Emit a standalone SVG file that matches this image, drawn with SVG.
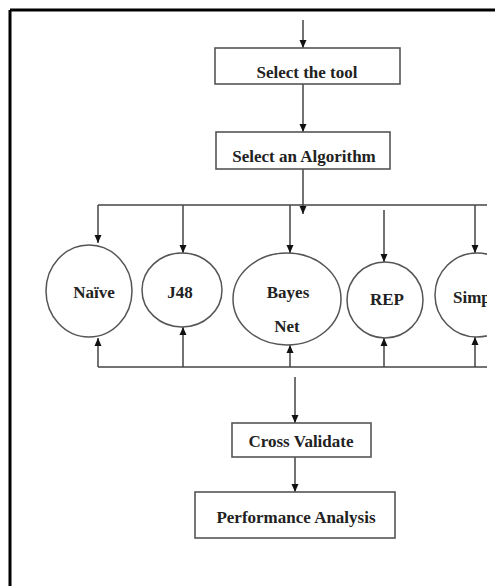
<svg xmlns="http://www.w3.org/2000/svg" width="495" height="586" viewBox="0 0 495 586">
<style>
.box{fill:#fff;stroke:#555;stroke-width:1.6}
.node{fill:#fff;stroke:#555;stroke-width:1.5}
.lbl{font-family:"Liberation Serif","Times New Roman",serif;font-weight:bold;font-size:17px;fill:#222;text-anchor:middle}
.ln{stroke:#444;stroke-width:1.5;fill:none}
.ar{stroke:#444;stroke-width:1.5;fill:none;marker-end:url(#ah)}
</style>
<defs>
<marker id="ah" markerUnits="userSpaceOnUse" markerWidth="8" markerHeight="8" refX="8" refY="4" orient="auto">
<path d="M0,0.5 L8,4 L0,7.5 z" fill="#111"/>
</marker>
<clipPath id="clip"><rect x="0" y="0" width="487" height="586"/></clipPath>
</defs>
<rect x="0" y="0" width="495" height="586" fill="#fff"/>
<g id="frame" stroke="#000" stroke-width="3">
<line x1="10" y1="10" x2="495" y2="10"/>
<line x1="10" y1="10" x2="10" y2="586"/>
</g>
<g clip-path="url(#clip)">
<g id="connectors">
<line class="ar" x1="303" y1="20" x2="303" y2="48"/>
<line class="ar" x1="303" y1="84" x2="303" y2="132"/>
<line class="ar" x1="303" y1="169" x2="303" y2="214"/>
<line class="ln" x1="98" y1="205" x2="495" y2="205"/>
<line class="ar" x1="98" y1="205" x2="98" y2="243"/>
<line class="ar" x1="183" y1="205" x2="183" y2="253"/>
<line class="ar" x1="290" y1="205" x2="290" y2="253"/>
<line class="ar" x1="384" y1="210" x2="384" y2="262"/>
<line class="ar" x1="475" y1="205" x2="475" y2="253"/>
<line class="ln" x1="98" y1="367" x2="495" y2="367"/>
<line class="ar" x1="98" y1="367" x2="98" y2="338"/>
<line class="ar" x1="183" y1="367" x2="183" y2="327"/>
<line class="ar" x1="290" y1="367" x2="290" y2="345"/>
<line class="ar" x1="384" y1="367" x2="384" y2="338"/>
<line class="ar" x1="475" y1="367" x2="475" y2="337"/>
<line class="ar" x1="295" y1="377" x2="295" y2="423"/>
<line class="ar" x1="295" y1="457" x2="295" y2="492"/>
</g>
<g id="select-tool">
<rect class="box" x="215" y="48" width="185" height="36"/>
<text class="lbl" x="307" y="78">Select the tool</text>
</g>
<g id="select-algorithm">
<rect class="box" x="216" y="132" width="174" height="37"/>
<text class="lbl" x="304" y="162">Select an Algorithm</text>
</g>
<g id="naive">
<ellipse class="node" cx="89" cy="291" rx="43" ry="46"/>
<text class="lbl" x="94" y="298">Naïve</text>
</g>
<g id="j48">
<ellipse class="node" cx="182" cy="290" rx="40" ry="37"/>
<text class="lbl" x="180" y="298">J48</text>
</g>
<g id="bayes-net">
<ellipse class="node" cx="287" cy="299" rx="54" ry="46"/>
<text class="lbl" x="288" y="298">Bayes</text>
<text class="lbl" x="287" y="332">Net</text>
</g>
<g id="rep">
<ellipse class="node" cx="385" cy="300" rx="38" ry="38"/>
<text class="lbl" x="387" y="305">REP</text>
</g>
<g id="simp">
<ellipse class="node" cx="477" cy="295" rx="42" ry="42"/>
<text class="lbl" x="453" y="303" style="text-anchor:start">Simp</text>
</g>
<g id="cross-validate">
<rect class="box" x="232" y="423" width="139" height="34"/>
<text class="lbl" x="301" y="447">Cross Validate</text>
</g>
<g id="performance-analysis">
<rect class="box" x="195" y="492" width="200" height="46"/>
<text class="lbl" x="296" y="523">Performance Analysis</text>
</g>
</g>
</svg>
